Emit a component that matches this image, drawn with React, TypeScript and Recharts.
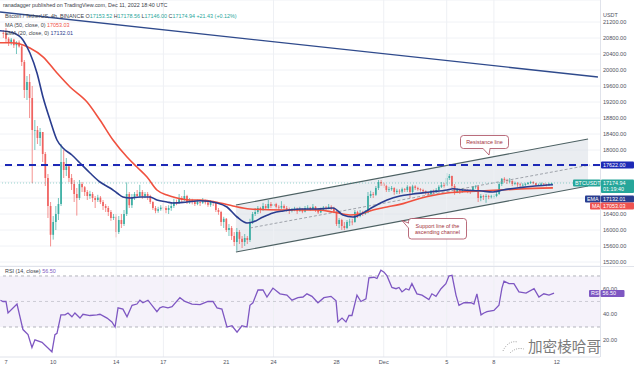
import React from 'react';
import {
  ComposedChart, Bar, Line, Area, XAxis, YAxis, CartesianGrid, ReferenceLine, ReferenceArea,
} from 'recharts';

const UP = '#26a69a';
const DOWN = '#ef5350';
const EMA_C = '#2a3d8f';
const MA_C = '#f0513f';
const RSI_C = '#7e57c2';

// BTCUSDT 4h candles, the first one opens Nov 6 20:00 UTC (x unit = day of November, Dec 1 = 31)
const firstOpen = 20930;
const firstCandleDay = 6 + 20 / 24;

const closes = [
  20905,
  20780, 20700, 20760, 20620, 20690, 20590, // Nov 7
  20200, 19500, 19700, 19300, 18500, 18500,
  18300, 18450, 17900, 17300, 16600, 15880,
  16200, 16400, 16650, 17700, 17500, 17590, // Nov 10
  17300, 17150, 16900, 16800, 17150, 17070,
  16950, 16850, 16900, 16800, 16750, 16810,
  16700, 16600, 16550, 16450, 16300, 16330,
  15950, 16250, 16150, 16400, 16900, 16620, // Nov 14
  16800, 16900, 16850, 16950, 16850, 16900,
  16850, 16700, 16550, 16480, 16520, 16560,
  16550, 16500, 16550, 16600, 16700, 16690,
  16800, 16750, 16850, 16700, 16750, 16700,
  16650, 16700, 16680, 16720, 16690, 16630,
  16700, 16680, 16500, 16450, 16200, 16280,
  16000, 16050, 15850, 15700, 15950, 15780, // Nov 21
  15700, 15800, 15750, 16200, 16400, 16450,
  16550, 16500, 16600, 16550, 16650, 16600,
  16650, 16580, 16560, 16600, 16550, 16520,
  16480, 16500, 16530, 16470, 16520, 16460,
  16550, 16560, 16520, 16580, 16500, 16440,
  16500, 16560, 16540, 16580, 16550, 16460,
  16150, 16250, 16100, 16050, 16200, 16210, // Nov 28
  16200, 16450, 16350, 16420, 16400, 16440,
  16850, 16900, 16880, 17050, 17200, 17165,
  17100, 17000, 17020, 17050, 16950, 16980, // Dec 1
  16960, 17020, 17000, 17080, 16950, 17090,
  17050, 17020, 17000, 16970, 16920, 16890,
  16980, 16950, 17000, 17080, 17120, 17110,
  17300, 17350, 17100, 16950, 17000, 16970, // Dec 5
  17000, 16990, 16980, 16960, 17080, 17090,
  16800, 16850, 16830, 16850, 16830, 16840,
  16850, 16900, 17150, 17280, 17250, 17225, // Dec 8
  17230, 17150, 17170, 17140, 17130, 17130,
  17150, 17180, 17200, 17170, 17120, 17130,
  17160, 17140, 17120, 17153.52, 17174.94, // Dec 11
];

const highs = [
  21000,
  21050, 20820, 20800, 20780, 20720, 20740,
  20650, 20250, 19850, 19900, 19600, 18750,
  18600, 18550, 18450, 17950, 17400, 16700,
  16350, 16600, 16800, 18150, 18000, 17800,
  17650, 17400, 17250, 17050, 17250, 17200,
  17100, 17000, 16980, 16950, 16850, 16880,
  16850, 16750, 16650, 16600, 16500, 16400,
  16400, 16350, 16400, 16500, 17190, 16950,
  16900, 16950, 17000, 17130, 17000, 16950,
  16950, 16880, 16720, 16600, 16580, 16620,
  16680, 16600, 16620, 16700, 16780, 16760,
  16900, 16850, 17000, 16880, 16800, 16780,
  16750, 16760, 16740, 16800, 16760, 16720,
  16750, 16730, 16700, 16550, 16480, 16330,
  16300, 16150, 16100, 15950, 16050, 16000,
  15850, 15900, 15850, 16280, 16450, 16550,
  16600, 16580, 16680, 16650, 16750, 16700,
  16780, 16680, 16620, 16720, 16640, 16600,
  16560, 16550, 16580, 16560, 16580, 16540,
  16600, 16620, 16580, 16650, 16600, 16540,
  16560, 16600, 16600, 16650, 16620, 16580,
  16480, 16300, 16280, 16200, 16250, 16280,
  16280, 16500, 16480, 16500, 16480, 16500,
  16950, 16980, 16950, 17100, 17250, 17250,
  17200, 17130, 17080, 17100, 17070, 17030,
  17020, 17060, 17050, 17120, 17100, 17130,
  17120, 17080, 17050, 17030, 16990, 16950,
  17000, 17010, 17050, 17120, 17200, 17180,
  17425, 17400, 17360, 17150, 17050, 17030,
  17050, 17030, 17020, 17010, 17100, 17120,
  17110, 16900, 16880, 16900, 16880, 16880,
  16900, 16950, 17200, 17300, 17320, 17280,
  17300, 17240, 17210, 17200, 17180, 17170,
  17180, 17200, 17230, 17220, 17180, 17160,
  17190, 17170, 17160, 17180, 17178.56,
];

const lows = [
  20800,
  20700, 20600, 20620, 20550, 20400, 20560,
  20100, 19300, 19250, 18800, 17170, 18000,
  18150, 18100, 17700, 17100, 16300, 15590,
  15760, 16000, 16250, 16600, 17300, 17350,
  17200, 17000, 16700, 16360, 16750, 16950,
  16850, 16750, 16780, 16700, 16550, 16700,
  16650, 16500, 16450, 16350, 16230, 16250,
  15815, 15900, 16050, 16100, 16350, 16550,
  16550, 16750, 16800, 16800, 16780, 16800,
  16750, 16650, 16500, 16420, 16430, 16480,
  16480, 16420, 16400, 16480, 16550, 16620,
  16650, 16680, 16720, 16650, 16650, 16640,
  16600, 16620, 16600, 16650, 16640, 16580,
  16580, 16600, 16450, 16380, 16100, 16050,
  15950, 15850, 15750, 15600, 15480, 15650,
  15550, 15600, 15650, 15700, 16150, 16350,
  16400, 16420, 16480, 16500, 16520, 16550,
  16580, 16540, 16500, 16520, 16500, 16460,
  16400, 16440, 16470, 16400, 16460, 16420,
  16440, 16500, 16480, 16500, 16450, 16400,
  16420, 16480, 16500, 16520, 16500, 16420,
  16100, 16050, 16000, 15995, 16020, 16100,
  16120, 16180, 16300, 16320, 16350, 16380,
  16420, 16800, 16800, 16850, 17000, 17100,
  17050, 16950, 16950, 16980, 16880, 16900,
  16900, 16920, 16950, 16950, 16800, 16900,
  17000, 16980, 16960, 16920, 16880, 16860,
  16870, 16900, 16920, 16980, 17050, 17060,
  17100, 17250, 17050, 16880, 16920, 16900,
  16930, 16950, 16920, 16900, 16950, 17030,
  16700, 16720, 16750, 16680, 16770, 16790,
  16780, 16820, 16880, 17100, 17180, 17150,
  17180, 17100, 17120, 17080, 17080, 17090,
  17100, 17130, 17150, 17140, 17100, 17100,
  17120, 17110, 17090, 17110, 17146,
];

// MA (50) and EMA (20) as [day, price]
const maPoints = [
  [6.62, 20680], [7.25, 20680], [7.89, 20650], [8.52, 20550], [9.35, 20330], [10.24, 19925],
  [11.07, 19575], [12.15, 19200], [12.97, 18750], [13.8, 18250], [14.69, 17825], [15.32, 17575],
  [15.96, 17325], [16.59, 17000], [17.23, 16875], [17.86, 16800], [18.69, 16750], [19.33, 16750],
  [20.6, 16675], [21.42, 16600], [22.5, 16525], [24.6, 16500], [26.76, 16500], [27.78, 16450],
  [28.86, 16375], [29.49, 16400], [30.32, 16500], [31.21, 16575], [32.03, 16640], [32.86, 16740],
  [33.94, 16850], [35.02, 16925], [37.11, 16975], [38.38, 17000], [39.66, 17025], [41.75, 17053.03],
];

const emaPoints = [
  [6.62, 20980], [7.44, 20930], [8.08, 20750], [8.52, 20425], [8.97, 19925], [9.35, 19325],
  [9.8, 18750], [10.24, 18250], [10.62, 18050], [11.19, 17875], [11.7, 17675], [12.34, 17425],
  [12.97, 17200], [13.61, 17050], [14.05, 16925], [14.43, 16825], [14.88, 16800], [15.51, 16825],
  [16.15, 16825], [16.59, 16750], [17.23, 16700], [17.61, 16675], [18.5, 16700], [19.33, 16730],
  [20.41, 16675], [21.04, 16575], [21.68, 16325], [22.31, 16175], [22.69, 16200], [23.33, 16325],
  [23.96, 16425], [24.6, 16475], [25.68, 16525], [26.76, 16525], [27.78, 16550], [28.41, 16375],
  [29.05, 16325], [29.68, 16425], [30.32, 16575], [31.21, 16750], [32.03, 16850], [32.86, 16900],
  [33.94, 16950], [35.02, 17000], [35.4, 17030], [36.03, 17000], [37.11, 16980], [37.94, 16950],
  [38.57, 17000], [39.66, 17060], [40.61, 17100], [41.75, 17132.01],
];

const rsiPoints = [
  [6.65, 51], [6.81, 50], [7.0, 50], [7.13, 41], [7.7, 48], [8.08, 28], [8.4, 24], [8.65, 14],
  [8.84, 20], [9.29, 18], [9.8, 12], [9.92, 10.5], [10.11, 24], [10.24, 25], [10.49, 39.5],
  [10.75, 39.5], [10.94, 41], [11.19, 38], [11.38, 41], [11.7, 37], [11.89, 40], [12.34, 39],
  [12.78, 39.5], [12.97, 40], [13.42, 37], [13.73, 34], [13.93, 30], [14.12, 45], [14.43, 44],
  [14.69, 38], [15.01, 47], [15.32, 48], [15.51, 51], [15.7, 49], [16.02, 51], [16.59, 42],
  [16.78, 45], [16.97, 46], [17.29, 45], [17.55, 46], [18.05, 53], [18.37, 50], [18.82, 48],
  [19.33, 47.5], [19.52, 48.5], [19.83, 50], [20.15, 50], [20.41, 45], [20.72, 44], [21.04, 30],
  [21.36, 31], [21.68, 26], [21.99, 31], [22.31, 30], [22.5, 47], [22.69, 49], [23.01, 59],
  [23.33, 59], [23.58, 53.5], [23.96, 60.5], [24.41, 56], [24.85, 55], [25.17, 51], [25.55, 53],
  [25.87, 53.5], [26.12, 56], [26.44, 54], [26.82, 49], [27.2, 53], [27.65, 54], [27.97, 50.5],
  [28.09, 34], [28.35, 37], [28.6, 34], [28.79, 39], [28.98, 39], [29.3, 55], [29.55, 50],
  [29.87, 52], [30.06, 68.5], [30.38, 69], [30.57, 68], [30.82, 74.5], [31.02, 73], [31.21, 70],
  [31.52, 61], [31.78, 60], [31.97, 61], [32.16, 57.5], [32.41, 60], [32.6, 59], [32.79, 64],
  [33.11, 56], [33.43, 55], [33.87, 51.5], [34.06, 56], [34.32, 54], [34.64, 60], [34.95, 64],
  [35.14, 70], [35.34, 70.5], [35.59, 55], [35.78, 47], [36.1, 49], [36.54, 49], [36.73, 48],
  [36.92, 56], [37.18, 39.5], [37.37, 41], [37.56, 42], [38.0, 43], [38.32, 47], [38.51, 60.5],
  [38.64, 66], [38.96, 64], [39.27, 64], [39.59, 57.5], [40.04, 56.5], [40.55, 60], [40.86, 53.5],
  [41.17, 56], [41.5, 55], [41.82, 56.5],
];

// drawn trend lines [day, price]
const trendLine = [[6.62, 21450], [44.61, 19825]];
const channelUpper = [[21.61, 16625], [43.98, 18275]];
const channelLower = [[21.61, 15450], [43.98, 17100]];
const channelMid = [[22.5, 16050], [44.1, 17625]];
const resistanceLevel = 17622;
const lastPrice = 17174.94;

const dateTicks = [7, 10, 14, 17, 21, 24, 28, 31, 35, 38, 42];
const dateLabels = ['7', '10', '14', '17', '21', '24', '28', 'Dec', '5', '8', '12'];
const gridDays = [14, 17, 24, 31, 35, 38];
const priceTicks = [15200, 15600, 16000, 16400, 16800, 17200, 17600, 18000, 18400, 18800, 19200, 19600, 20000, 20400, 20800, 21200];
const rsiTicks = [20, 40, 60];

const candles = closes.map((c, i) => ({
  t: firstCandleDay + i / 6,
  open: i === 0 ? firstOpen : closes[i - 1],
  close: c,
  high: highs[i],
  low: lows[i],
  range: [lows[i], highs[i]],
}));

const toPts = (arr: number[][]) => arr.map(([t, v]) => ({ t, v }));
const channelBand = channelUpper.map(([t, hi], i) => ({ t, band: [channelLower[i][1], hi] }));

const X_DOMAIN = [6.62, 44.74];

const Candle = (props: any) => {
  const { x, y, width, height, payload } = props;
  if (!payload || height == null) return null;
  const { open, close, high, low } = payload;
  const top = Math.min(y, y + height);
  const h = Math.abs(height);
  const py = (v: number) => top + ((high - v) / (high - low)) * h;
  const color = close >= open ? UP : DOWN;
  const cx = x + width / 2;
  const b1 = py(Math.max(open, close));
  const bh = Math.max(0.7, Math.abs(py(open) - py(close)));
  return (
    <g opacity={0.9}>
      <line x1={cx} x2={cx} y1={top} y2={top + h} stroke={color} strokeWidth={0.7} />
      <rect x={cx - 0.85} y={b1} width={1.7} height={bh} fill={color} />
    </g>
  );
};

const Tag = ({ x, y, w, h = 7, fill, lines }: any) => (
  <g>
    <rect x={x} y={y} width={w} height={h} fill={fill} rx={1} />
    {lines.map((s: string, i: number) => (
      <text key={i} x={x + 2} y={y + 5.4 + i * 6.3} fontSize={5.4} fill="#fff">{s}</text>
    ))}
  </g>
);

const App: React.FC = () => {
  const txt = { fontSize: 5.4, fill: '#3a3e48' };
  return (
    <div style={{ position: 'absolute', left: 0, top: 0, width: 634, height: 372, background: '#fff', fontFamily: '"Liberation Sans", Arial, sans-serif', overflow: 'hidden' }}>
      <div style={{ position: 'absolute', left: 0, top: 0 }}>
        <ComposedChart width={634} height={266} data={candles} margin={{ top: 0, right: 0, bottom: 0, left: 0 }}>
          <CartesianGrid vertical={false} stroke="#f0f2f6" />
          <XAxis type="number" dataKey="t" domain={X_DOMAIN} allowDataOverflow hide ticks={dateTicks} />
          <YAxis orientation="right" width={34} domain={[15100, 21750]} allowDataOverflow ticks={priceTicks} interval={0}
            tickLine={false} axisLine={false} tickSize={0} tickMargin={3}
            tick={{ fontSize: 5.6, fill: '#50535e' }} tickFormatter={(v: number) => v.toFixed(2)} />
          {gridDays.map((d) => <ReferenceLine key={d} x={d} stroke="#eef0f4" />)}
          <Area data={channelBand} dataKey="band" type="linear" stroke="none" fill="#d9dee5" fillOpacity={0.55} isAnimationActive={false} />
          <Line data={toPts(channelUpper)} dataKey="v" type="linear" stroke="#4d6163" strokeWidth={1.2} dot={false} isAnimationActive={false} />
          <Line data={toPts(channelLower)} dataKey="v" type="linear" stroke="#4d6163" strokeWidth={1.2} dot={false} isAnimationActive={false} />
          <Line data={toPts(channelMid)} dataKey="v" type="linear" stroke="#8c9099" strokeWidth={0.8} strokeDasharray="3 2" dot={false} isAnimationActive={false} />
          <Line data={toPts(trendLine)} dataKey="v" type="linear" stroke="#2f4a8c" strokeWidth={1.3} dot={false} isAnimationActive={false} />
          <ReferenceLine y={lastPrice} stroke={UP} strokeOpacity={0.6} strokeDasharray="1 2" strokeWidth={0.8} />
          <Bar dataKey="range" barSize={2} shape={Candle} isAnimationActive={false} />
          <Line data={toPts(maPoints)} dataKey="v" type="monotone" stroke={MA_C} strokeWidth={1.6} dot={false} isAnimationActive={false} />
          <Line data={toPts(emaPoints)} dataKey="v" type="monotone" stroke={EMA_C} strokeWidth={1.6} dot={false} isAnimationActive={false} />
          <ReferenceLine y={resistanceLevel} stroke="#1d29b6" strokeWidth={2} strokeDasharray="7 5" />
        </ComposedChart>
      </div>
      <div style={{ position: 'absolute', left: 0, top: 266 }}>
        <ComposedChart width={634} height={106} margin={{ top: 0, right: 0, bottom: 0, left: 0 }}>
          <XAxis type="number" dataKey="t" domain={X_DOMAIN} allowDataOverflow ticks={dateTicks} interval={0} height={15}
            tickLine={false} tickSize={0} tickMargin={3} axisLine={{ stroke: '#e0e3eb' }}
            tick={{ fontSize: 5.6, fill: '#50535e' }} tickFormatter={(v: number) => dateLabels[dateTicks.indexOf(v)] ?? ''} />
          <YAxis orientation="right" width={34} domain={[6.5, 77.8]} allowDataOverflow ticks={rsiTicks} interval={0}
            tickLine={false} axisLine={false} tickSize={0} tickMargin={3}
            tick={{ fontSize: 5.6, fill: '#50535e' }} tickFormatter={(v: number) => v.toFixed(2)} />
          {gridDays.map((d) => <ReferenceLine key={d} x={d} stroke="#eef0f4" />)}
          <ReferenceArea y1={30} y2={70} fill={RSI_C} fillOpacity={0.08} stroke="none" />
          <ReferenceLine y={70} stroke="#9598a1" strokeDasharray="3 3" strokeWidth={0.7} />
          <ReferenceLine y={50} stroke="#9598a1" strokeDasharray="3 3" strokeWidth={0.6} strokeOpacity={0.7} />
          <ReferenceLine y={30} stroke="#9598a1" strokeDasharray="3 3" strokeWidth={0.7} />
          <Line data={toPts(rsiPoints)} dataKey="v" type="linear" stroke={RSI_C} strokeWidth={1.3} dot={false} isAnimationActive={false} />
        </ComposedChart>
      </div>
      <svg width={634} height={372} style={{ position: 'absolute', left: 0, top: 0, pointerEvents: 'none' }}>
        <line x1={0} x2={634} y1={266.5} y2={266.5} stroke="#e0e3eb" />
        <line x1={600.5} x2={600.5} y1={0} y2={357} stroke="#e0e3eb" />
        <text x={3} y={6.5} {...txt}>ranadagger published on TradingView.com, Dec 11, 2022 18:40 UTC</text>
        <text x={5} y={17.5} {...txt}>
          Bitcoin / TetherUS, 4h, BINANCE <tspan> O</tspan><tspan fill={UP}>17153.52</tspan>
          <tspan> H</tspan><tspan fill={UP}>17178.56</tspan><tspan> L</tspan><tspan fill={UP}>17146.00</tspan>
          <tspan> C</tspan><tspan fill={UP}>17174.94</tspan><tspan fill={UP}> +21.43 (+0.12%)</tspan>
        </text>
        <text x={5} y={27} {...txt}>MA (50, close, 0) <tspan fill={MA_C}>17053.03</tspan></text>
        <text x={5} y={35} {...txt}>EMA (20, close, 0) <tspan fill={EMA_C}>17132.01</tspan></text>
        <text x={5} y={273} {...txt}>RSI (14, close) <tspan fill={RSI_C}>56.50</tspan></text>
        <text x={603} y={17} fontSize={5.4} fill="#50535e">USDT</text>

        <Tag x={601} y={161.5} w={33} fill="#1d29b6" lines={['17622.00']} />
        <Tag x={573} y={179.5} w={27.5} fill={UP} lines={['BTCUSDT']} />
        <Tag x={601} y={179.5} w={33} h={13.5} fill={UP} lines={['17174.94', '01:19:40']} />
        <Tag x={585} y={195.5} w={15.5} fill={EMA_C} lines={['EMA']} />
        <Tag x={601} y={195.5} w={33} fill={EMA_C} lines={['17132.01']} />
        <Tag x={590} y={202.5} w={10.5} fill={DOWN} lines={['MA']} />
        <Tag x={601} y={202.5} w={33} fill={DOWN} lines={['17053.03']} />
        <Tag x={589} y={290} w={10.5} fill={RSI_C} lines={['RSI']} />
        <Tag x={600.5} y={290} w={24} fill={RSI_C} lines={['56.50']} />

        <g>
          <path d="M483 148.5 L489 155 L490 148.5" fill="#fff" stroke="#a8485a" strokeWidth={0.8} />
          <rect x={460.5} y={135.5} width={48} height={13} rx={3} fill="#fff" stroke="#a8485a" strokeWidth={0.8} />
          <line x1={483.4} x2={489.6} y1={148.5} y2={148.5} stroke="#fff" strokeWidth={1.2} />
          <text x={484.5} y={144} fontSize={5.4} fill="#a33340" textAnchor="middle">Resistance line</text>
        </g>
        <g>
          <path d="M408.5 223 L402 220.5 L408.5 228" fill="#fff" stroke="#a8485a" strokeWidth={0.8} />
          <rect x={408.5} y={218.5} width={58} height={20.5} rx={3} fill="#fff" stroke="#a8485a" strokeWidth={0.8} />
          <line x1={408.5} x2={408.5} y1={223.5} y2={227.5} stroke="#fff" strokeWidth={1.2} />
          <text x={437.5} y={227.5} fontSize={5.4} fill="#a33340" textAnchor="middle">Support line of the</text>
          <text x={437.5} y={234} fontSize={5.4} fill="#a33340" textAnchor="middle">ascending channel</text>
        </g>

        <g opacity={0.8}>
          <path d="M503 351 Q508 340 518 342" fill="none" stroke="#777" strokeWidth={0.9} strokeDasharray="1 1.4" />
          <path d="M510 353 Q516 347 524 349" fill="none" stroke="#777" strokeWidth={0.9} strokeDasharray="1 1.4" />
          <text x={528} y={352} fontSize={14.6} fill="#5a5a5a" fontFamily='"Noto Sans CJK SC", sans-serif'>加密棱哈哥</text>
        </g>
      </svg>
    </div>
  );
};

export default App;
